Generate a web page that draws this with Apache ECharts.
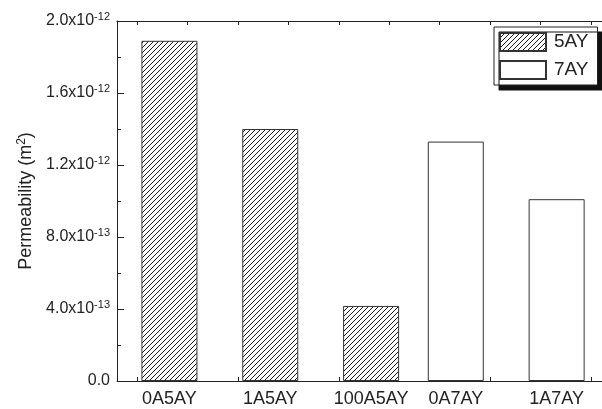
<!DOCTYPE html>
<html>
<head>
<meta charset="utf-8">
<script src="https://cdn.jsdelivr.net/npm/echarts@6/dist/echarts.min.js"></script>
<style>
  html, body { margin: 0; padding: 0; background: #fff; }
  #chart { width: 602px; height: 409px; }
</style>
</head>
<body>
<div id="chart"></div>
<script>
// Samples and where each bar sits along the x axis
const categories = ['0A5AY', '1A5AY', '100A5AY', '0A7AY', '1A7AY'];
const xPositions = [1, 2, 3, 3.84, 4.84];
const series5AY = [1.89e-12, 1.40e-12, 4.17e-13];
const series7AY = [1.33e-12, 1.01e-12];

// Axis ticks and their labels
const yTicks = [0, 4e-13, 8e-13, 1.2e-12, 1.6e-12, 2.0e-12];
const yTickMantissa = ['0.0', '4.0', '8.0', '1.2', '1.6', '2.0'];
const yTickExponent = ['', '-13', '-13', '-12', '-12', '-12'];
const xMinorTicks = [0.68, 1.18, 1.68, 2.18, 2.68, 3.18, 3.68, 4.18, 4.68, 5.18];

const FONT = '"Liberation Sans", Arial, sans-serif';

// Diagonal hatch fill for the 5AY bars
function makeHatch() {
  const s = 5;
  const c = document.createElement('canvas');
  c.width = s; c.height = s;
  const g = c.getContext('2d');
  g.fillStyle = '#fff';
  g.fillRect(0, 0, s, s);
  g.strokeStyle = '#000';
  g.lineWidth = 0.9;
  g.beginPath();
  g.moveTo(0, s); g.lineTo(s, 0);
  g.moveTo(-1, 1); g.lineTo(1, -1);
  g.moveTo(s - 1, s + 1); g.lineTo(s + 1, s - 1);
  g.stroke();
  return c;
}
const hatch = { image: makeHatch(), repeat: 'repeat' };

function nearestIndex(arr, v) {
  let best = 0;
  for (let i = 1; i < arr.length; i++) {
    if (Math.abs(arr[i] - v) < Math.abs(arr[best] - v)) best = i;
  }
  return best;
}

const chart = echarts.init(document.getElementById('chart'), null, { renderer: 'canvas' });

const axisLineStyle = { color: '#222', width: 1 };
const X_MIN = 0.48;
const X_MAX = 5.29;

chart.setOption({
  animation: false,
  textStyle: { fontFamily: FONT },
  grid: { left: 117, top: 21, bottom: 28, right: 0, containLabel: false },
  legend: {
    orient: 'vertical',
    left: 494,
    top: 27,
    padding: [5, 9, 5, 5],
    itemWidth: 46,
    itemHeight: 18,
    itemGap: 8,
    backgroundColor: '#fff',
    borderColor: '#222',
    borderWidth: 1,
    shadowColor: '#111',
    shadowBlur: 0,
    shadowOffsetX: 5,
    shadowOffsetY: 5,
    textStyle: { fontSize: 19, color: '#222', fontFamily: FONT, padding: [0, 0, 0, 3] },
    data: [
      { name: '5AY', icon: 'rect' },
      { name: '7AY', icon: 'rect' }
    ]
  },
  xAxis: [
    {
      type: 'value',
      position: 'bottom',
      min: X_MIN,
      max: X_MAX,
      splitLine: { show: false },
      axisLine: { show: true, onZero: false, lineStyle: axisLineStyle },
      axisTick: { show: true, inside: true, length: 4, customValues: xMinorTicks, lineStyle: axisLineStyle },
      axisLabel: {
        customValues: xPositions,
        margin: 9,
        fontSize: 18,
        color: '#222',
        fontFamily: FONT,
        formatter: function (v) { return categories[nearestIndex(xPositions, v)]; }
      }
    },
    {
      type: 'value',
      position: 'top',
      min: X_MIN,
      max: X_MAX,
      splitLine: { show: false },
      axisLine: { show: true, onZero: false, lineStyle: axisLineStyle },
      axisTick: { show: true, inside: true, length: 4, customValues: xMinorTicks, lineStyle: axisLineStyle },
      axisLabel: { show: false }
    }
  ],
  yAxis: {
    type: 'value',
    min: 0,
    max: 2e-12,
    interval: 4e-13,
    splitLine: { show: false },
    axisLine: { show: true, onZero: false, lineStyle: axisLineStyle },
    axisTick: { show: true, inside: true, length: 7, lineStyle: axisLineStyle },
    minorTick: { show: true, splitNumber: 2, length: 4, lineStyle: axisLineStyle },
    axisLabel: {
      margin: 7,
      color: '#222',
      formatter: function (v) {
        const i = nearestIndex(yTicks, v);
        if (!yTickExponent[i]) return '{m|' + yTickMantissa[i] + '}';
        return '{m|' + yTickMantissa[i] + 'x10}{e|' + yTickExponent[i] + '}';
      },
      rich: {
        m: { fontSize: 16, color: '#222', fontFamily: FONT },
        e: { fontSize: 11, color: '#222', fontFamily: FONT, verticalAlign: 'top', padding: [0, 0, 8, 0] }
      }
    },
    name: '{a|Permeability (m}{s|2}{a|)}',
    nameLocation: 'middle',
    nameGap: 78,
    nameRotate: 90,
    nameTextStyle: {
      fontSize: 18,
      color: '#222',
      fontFamily: FONT,
      rich: {
        a: { fontSize: 18, color: '#222', fontFamily: FONT },
        s: { fontSize: 12, color: '#222', fontFamily: FONT, verticalAlign: 'top', padding: [0, 0, 9, 0] }
      }
    }
  },
  series: [
    {
      name: '5AY',
      type: 'bar',
      barWidth: 56,
      barGap: '-100%',
      itemStyle: { color: hatch, borderColor: '#333', borderWidth: 1 },
      data: series5AY.map((v, i) => [xPositions[i], v])
    },
    {
      name: '7AY',
      type: 'bar',
      barWidth: 56,
      barGap: '-100%',
      itemStyle: { color: '#fff', borderColor: '#333', borderWidth: 1 },
      data: series7AY.map((v, i) => [xPositions[i + series5AY.length], v])
    }
  ]
});
</script>
</body>
</html>
